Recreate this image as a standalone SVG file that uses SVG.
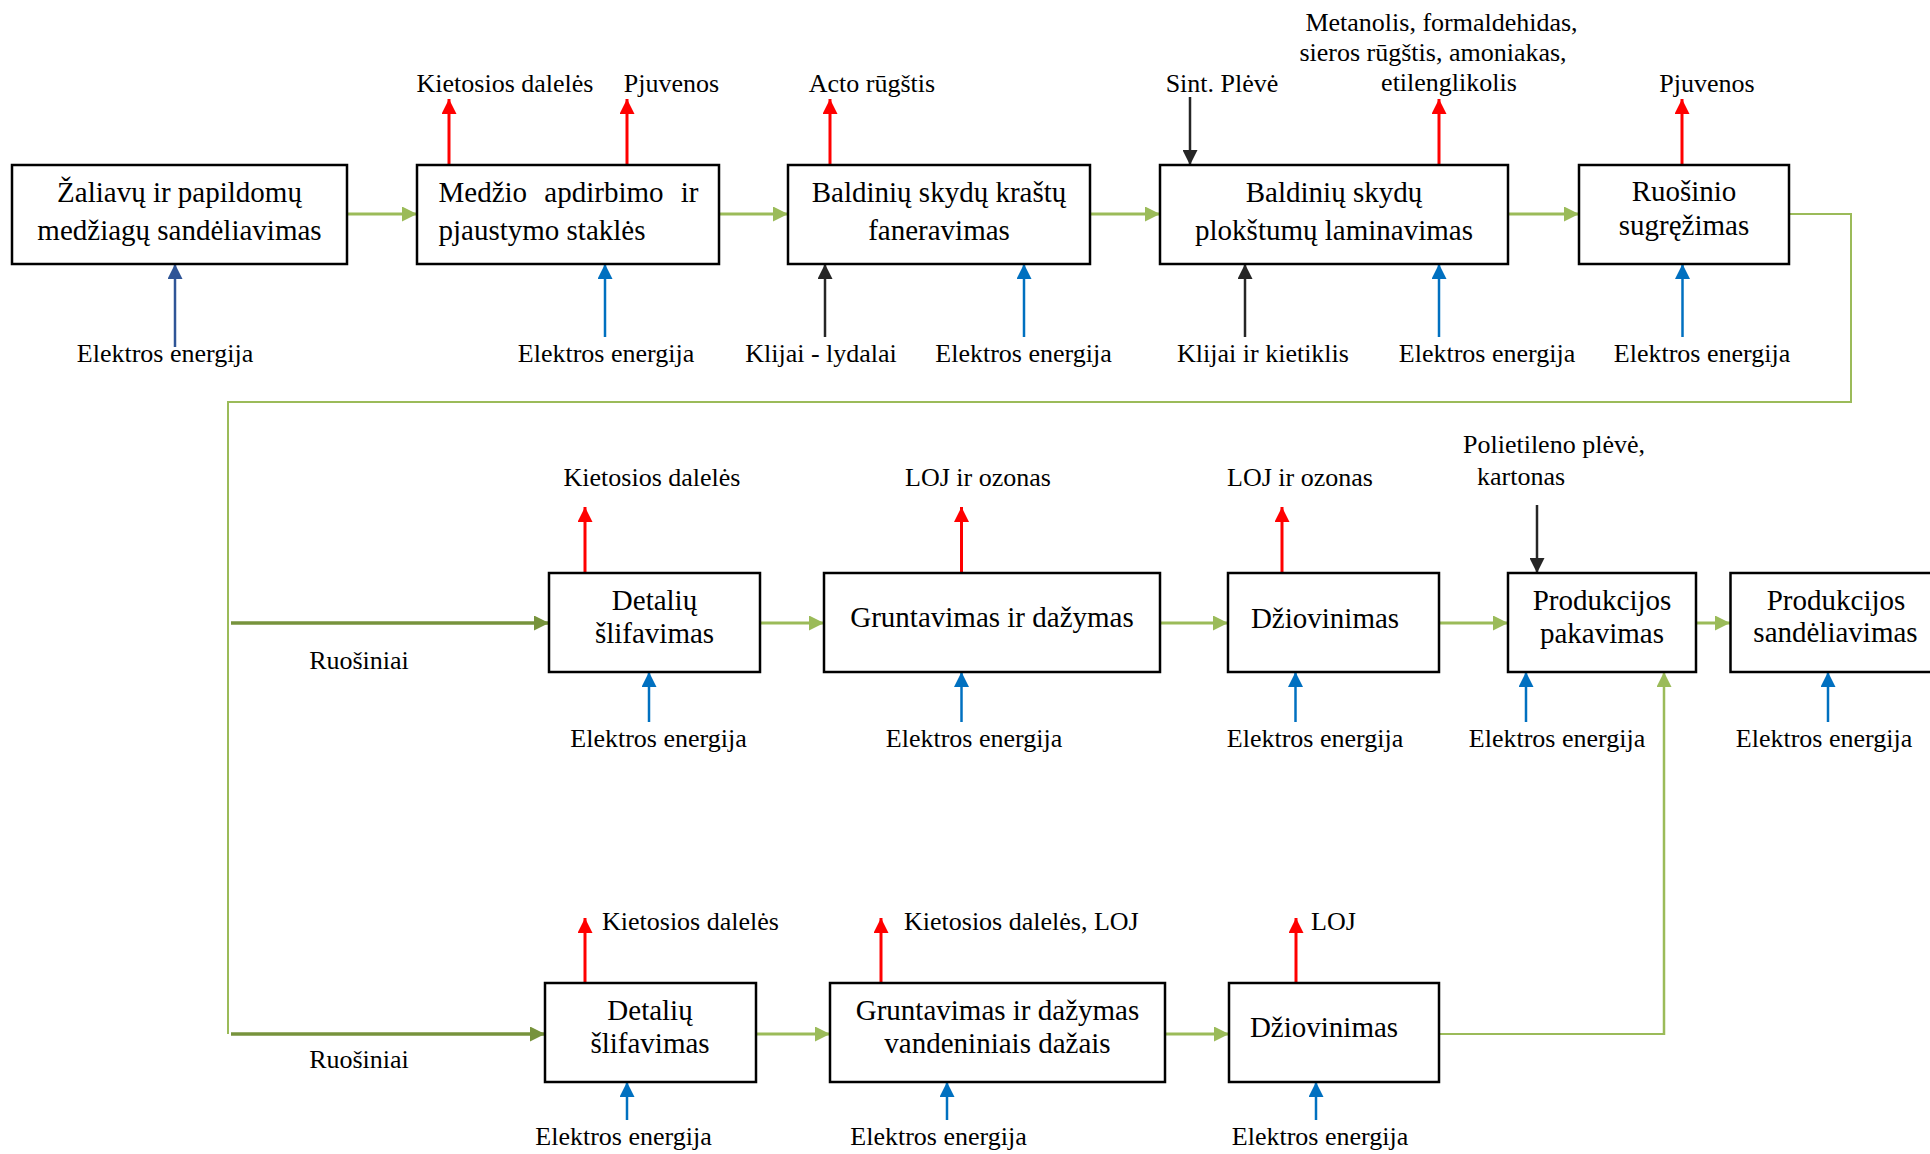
<svg xmlns="http://www.w3.org/2000/svg" width="1930" height="1154" viewBox="0 0 1930 1154">
<style>
.box{fill:#fff;stroke:#000;stroke-width:2.5}
.bt{font-family:"Liberation Serif","Times New Roman",serif;font-size:29px;fill:#000;text-anchor:middle}
.lb{font-family:"Liberation Serif","Times New Roman",serif;font-size:26px;fill:#000;text-anchor:middle}
.st{text-anchor:start}
.g{stroke:#9BBB59;stroke-width:3;fill:none;marker-end:url(#aG)}
.ol{stroke:#77933C;stroke-width:3.5;fill:none;marker-end:url(#aO)}
.gt{stroke:#9BBB59;stroke-width:2;fill:none}
.r{stroke:#FF0000;stroke-width:3;fill:none;marker-end:url(#aR)}
.b{stroke:#0070C0;stroke-width:2.5;fill:none;marker-end:url(#aB)}
.db{stroke:#2F5597;stroke-width:2.5;fill:none;marker-end:url(#aD)}
.k{stroke:#262626;stroke-width:2.5;fill:none;marker-end:url(#aK)}
</style>
<defs>
<marker id="aG" viewBox="0 0 15 15" refX="15" refY="7.5" markerWidth="15" markerHeight="15" orient="auto" markerUnits="userSpaceOnUse"><path d="M0,0 L15,7.5 L0,15 z" fill="#9BBB59"/></marker>
<marker id="aO" viewBox="0 0 15 15" refX="15" refY="7.5" markerWidth="15" markerHeight="15" orient="auto" markerUnits="userSpaceOnUse"><path d="M0,0 L15,7.5 L0,15 z" fill="#77933C"/></marker>
<marker id="aR" viewBox="0 0 15 15" refX="15" refY="7.5" markerWidth="15" markerHeight="15" orient="auto" markerUnits="userSpaceOnUse"><path d="M0,0 L15,7.5 L0,15 z" fill="#FF0000"/></marker>
<marker id="aB" viewBox="0 0 15 15" refX="15" refY="7.5" markerWidth="15" markerHeight="15" orient="auto" markerUnits="userSpaceOnUse"><path d="M0,0 L15,7.5 L0,15 z" fill="#0070C0"/></marker>
<marker id="aD" viewBox="0 0 15 15" refX="15" refY="7.5" markerWidth="15" markerHeight="15" orient="auto" markerUnits="userSpaceOnUse"><path d="M0,0 L15,7.5 L0,15 z" fill="#2F5597"/></marker>
<marker id="aK" viewBox="0 0 15 15" refX="15" refY="7.5" markerWidth="15" markerHeight="15" orient="auto" markerUnits="userSpaceOnUse"><path d="M0,0 L15,7.5 L0,15 z" fill="#262626"/></marker>
</defs>
<rect width="1930" height="1154" fill="#fff"/>

<g id="connectors">
<!-- row 1 flow -->
<path class="g" d="M347,214 H417"/>
<path class="g" d="M719,214 H788"/>
<path class="g" d="M1090,214 H1160"/>
<path class="g" d="M1508,214 H1579"/>
<path class="gt" d="M1789,214 H1851 V402 H228 V1034"/>
<!-- row 2 flow -->
<path class="ol" d="M231,623 H549"/>
<path class="g" d="M760,623 H824"/>
<path class="g" d="M1160,623 H1228"/>
<path class="g" d="M1439,623 H1508"/>
<path class="g" d="M1696,623 H1730"/>
<!-- row 3 flow -->
<path class="ol" d="M231,1034 H545"/>
<path class="g" d="M756,1034 H830"/>
<path class="g" d="M1165,1034 H1229"/>
<path class="gt" d="M1439,1034 H1664"/>
<path class="g" style="stroke-width:2.5" d="M1664,1035 V672"/>
<!-- emissions -->
<path class="r" d="M449,165 V99"/>
<path class="r" d="M627,165 V99"/>
<path class="r" d="M830,165 V99"/>
<path class="r" d="M1439,165 V99"/>
<path class="r" d="M1682,165 V99"/>
<path class="r" d="M585,573 V507"/>
<path class="r" d="M961.5,573 V507"/>
<path class="r" d="M1282,573 V507"/>
<path class="r" d="M585,983 V918"/>
<path class="r" d="M881,983 V918"/>
<path class="r" d="M1296,983 V918"/>
<!-- energy -->
<path class="db" d="M175,347 V264"/>
<path class="b" d="M605,337 V264"/>
<path class="b" d="M1024,337 V264"/>
<path class="b" d="M1439,337 V264"/>
<path class="b" d="M1682.5,337 V264"/>
<path class="b" d="M649,722 V672"/>
<path class="b" d="M961.5,722 V672"/>
<path class="b" d="M1295.5,722 V672"/>
<path class="b" d="M1526,722 V672"/>
<path class="b" d="M1828,722 V672"/>
<path class="b" d="M627,1120 V1082"/>
<path class="b" d="M947,1120 V1082"/>
<path class="b" d="M1316,1120 V1082"/>
<!-- materials -->
<path class="k" d="M825,337 V264"/>
<path class="k" d="M1245,337 V264"/>
<path class="k" d="M1190,97 V165"/>
<path class="k" d="M1537,505 V573"/>
</g>

<g id="labels">
<text class="lb" x="505" y="92">Kietosios dalelės</text>
<text class="lb" x="671.5" y="92">Pjuvenos</text>
<text class="lb" x="872" y="92">Acto rūgštis</text>
<text class="lb" x="1222" y="92">Sint. Plėvė</text>
<text class="lb" x="1441.5" y="31">Metanolis, formaldehidas,</text>
<text class="lb" x="1433" y="61">sieros rūgštis, amoniakas,</text>
<text class="lb" x="1449" y="91">etilenglikolis</text>
<text class="lb" x="1707" y="92">Pjuvenos</text>
<text class="lb" x="165" y="362">Elektros energija</text>
<text class="lb" x="606" y="362">Elektros energija</text>
<text class="lb" x="821" y="362">Klijai - lydalai</text>
<text class="lb" x="1023.5" y="362">Elektros energija</text>
<text class="lb" x="1263" y="362">Klijai ir kietiklis</text>
<text class="lb" x="1487" y="362">Elektros energija</text>
<text class="lb" x="1702" y="362">Elektros energija</text>

<text class="lb" x="652" y="486">Kietosios dalelės</text>
<text class="lb" x="978" y="486">LOJ ir ozonas</text>
<text class="lb" x="1300" y="486">LOJ ir ozonas</text>
<text class="lb st" x="1463" y="453">Polietileno plėvė,</text>
<text class="lb st" x="1477" y="485">kartonas</text>
<text class="lb" x="359" y="669">Ruošiniai</text>
<text class="lb" x="658.5" y="747">Elektros energija</text>
<text class="lb" x="974" y="747">Elektros energija</text>
<text class="lb" x="1315" y="747">Elektros energija</text>
<text class="lb" x="1557" y="747">Elektros energija</text>
<text class="lb" x="1824" y="747">Elektros energija</text>

<text class="lb st" x="602" y="930">Kietosios dalelės</text>
<text class="lb st" x="904" y="930">Kietosios dalelės, LOJ</text>
<text class="lb st" x="1311" y="930">LOJ</text>
<text class="lb" x="359" y="1068">Ruošiniai</text>
<text class="lb" x="623.5" y="1145">Elektros energija</text>
<text class="lb" x="938.5" y="1145">Elektros energija</text>
<text class="lb" x="1320" y="1145">Elektros energija</text>
</g>

<g id="n1"><rect class="box" x="12" y="165" width="335" height="99"/>
<text class="bt" x="179.5" y="202">Žaliavų ir papildomų</text><text class="bt" x="179.5" y="240">medžiagų sandėliavimas</text></g>
<g id="n2"><rect class="box" x="417" y="165" width="302" height="99"/>
<text class="bt st" x="438.5" y="202" word-spacing="10">Medžio apdirbimo ir</text><text class="bt st" x="438.5" y="240">pjaustymo staklės</text></g>
<g id="n3"><rect class="box" x="788" y="165" width="302" height="99"/>
<text class="bt" x="939" y="202">Baldinių skydų kraštų</text><text class="bt" x="939" y="240">faneravimas</text></g>
<g id="n4"><rect class="box" x="1160" y="165" width="348" height="99"/>
<text class="bt" x="1334" y="202">Baldinių skydų</text><text class="bt" x="1334" y="240">plokštumų laminavimas</text></g>
<g id="n5"><rect class="box" x="1579" y="165" width="210" height="99"/>
<text class="bt" x="1684" y="201">Ruošinio</text><text class="bt" x="1684" y="235">sugręžimas</text></g>

<g id="n6"><rect class="box" x="549" y="573" width="211" height="99"/>
<text class="bt" x="654.5" y="610">Detalių</text><text class="bt" x="654.5" y="643">šlifavimas</text></g>
<g id="n7"><rect class="box" x="824" y="573" width="336" height="99"/>
<text class="bt" x="992" y="627">Gruntavimas ir dažymas</text></g>
<g id="n8"><rect class="box" x="1228" y="573" width="211" height="99"/>
<text class="bt" x="1325" y="628">Džiovinimas</text></g>
<g id="n9"><rect class="box" x="1508" y="573" width="188" height="99"/>
<text class="bt" x="1602" y="610">Produkcijos</text><text class="bt" x="1602" y="643">pakavimas</text></g>
<g id="n10"><rect class="box" x="1730.5" y="573" width="215" height="99"/>
<text class="bt" x="1836" y="610">Produkcijos</text><text class="bt" x="1835.5" y="642">sandėliavimas</text></g>

<g id="n11"><rect class="box" x="545" y="983" width="211" height="99"/>
<text class="bt" x="650" y="1020">Detalių</text><text class="bt" x="650" y="1053">šlifavimas</text></g>
<g id="n12"><rect class="box" x="830" y="983" width="335" height="99"/>
<text class="bt" x="997.5" y="1020">Gruntavimas ir dažymas</text><text class="bt" x="997.5" y="1053">vandeniniais dažais</text></g>
<g id="n13"><rect class="box" x="1229" y="983" width="210" height="99"/>
<text class="bt" x="1324" y="1037">Džiovinimas</text></g>
</svg>
